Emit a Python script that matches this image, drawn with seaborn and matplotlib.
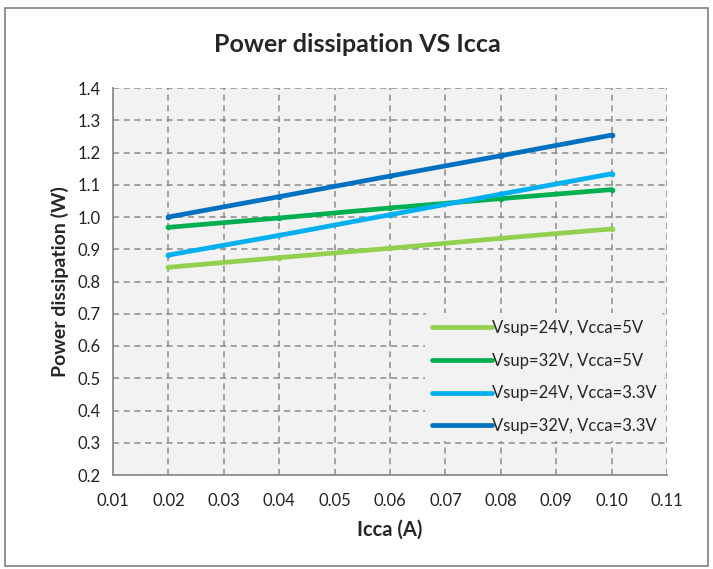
import matplotlib
matplotlib.use("Agg")
import matplotlib.pyplot as plt
import seaborn as sns
import pandas as pd
from matplotlib.patches import Rectangle

# data
icca = [0.02, 0.04, 0.06, 0.08, 0.10]
p_24v_5v = [0.844, 0.874, 0.903, 0.934, 0.963]
p_32v_5v = [0.968, 0.997, 1.028, 1.057, 1.085]
p_24v_33v = [0.882, 0.943, 1.007, 1.071, 1.134]
p_32v_33v = [1.000, 1.063, 1.127, 1.190, 1.254]
series_names = ["Vsup=24V, Vcca=5V", "Vsup=32V, Vcca=5V",
                "Vsup=24V, Vcca=3.3V", "Vsup=32V, Vcca=3.3V"]
colors = ["#92D050", "#00B050", "#00B0F0", "#0070C0"]

x_ticks = [0.01 * i for i in range(1, 12)]
x_labels = ["0.01", "0.02", "0.03", "0.04", "0.05", "0.06",
            "0.07", "0.08", "0.09", "0.10", "0.11"]
y_ticks = [0.2 + 0.1 * i for i in range(13)]

frames = []
for name, vals in zip(series_names, [p_24v_5v, p_32v_5v, p_24v_33v, p_32v_33v]):
    frames.append(pd.DataFrame({"Icca": icca, "P": vals, "series": name}))
df = pd.concat(frames, ignore_index=True)

sns.set_style("white")
plt.rcParams["font.family"] = ["Lato", "DejaVu Sans"]

fig = plt.figure(figsize=(7.13, 5.69), dpi=100)
ax = fig.add_axes([113 / 713, 1 - 475 / 569, (667 - 113) / 713, (475 - 88) / 569])
ax.set_facecolor("#F2F2F2")

sns.lineplot(data=df, x="Icca", y="P", hue="series", hue_order=series_names,
             palette=colors, linewidth=3.4, marker="o", markersize=4,
             markeredgewidth=0, ax=ax)

ax.set_xlim(0.01, 0.11)
ax.set_ylim(0.2, 1.4)
ax.set_xticks(x_ticks)
ax.set_xticklabels(x_labels)
ax.set_yticks(y_ticks)
ax.set_yticklabels([f"{v:.1f}" for v in y_ticks])
ax.tick_params(axis="both", labelsize=12, colors="#8C8C8C", labelcolor="#222222",
               length=6, width=1.2, direction="out")
ax.tick_params(axis="x", pad=7)
ax.tick_params(axis="y", pad=3)
ax.grid(True, color="#8C8C8C", linestyle=(0, (4, 3)), linewidth=1.1)
ax.set_axisbelow(True)
for side in ["top", "right"]:
    ax.spines[side].set_visible(False)
for side in ["left", "bottom"]:
    ax.spines[side].set_color("#8C8C8C")
    ax.spines[side].set_linewidth(1.3)

ax.set_xlabel("Icca (A)", fontsize=14.5, fontweight="bold", labelpad=8)
ax.set_ylabel("Power dissipation (W)", fontsize=14, fontweight="bold", labelpad=6)
fig.text(357 / 713, 1 - 44 / 569, "Power dissipation VS Icca", ha="center",
         va="center", fontsize=18, fontweight="bold")

leg = ax.legend(loc="lower right", bbox_to_anchor=(1.0, 0.08), frameon=True,
                facecolor="#F2F2F2", edgecolor="none", framealpha=1,
                fontsize=12, handlelength=3.6, handletextpad=0.05,
                labelspacing=1.0, borderpad=0.4, borderaxespad=0.2)
for line in leg.get_lines():
    line.set_linewidth(3.4)
    line.set_marker("")

fig.patches.append(Rectangle((5 / 713, 3 / 569), 703 / 713, 558 / 569,
                             transform=fig.transFigure, fill=False,
                             edgecolor="#7F7F7F", linewidth=1.2))

fig.savefig("out.png", dpi=100)
